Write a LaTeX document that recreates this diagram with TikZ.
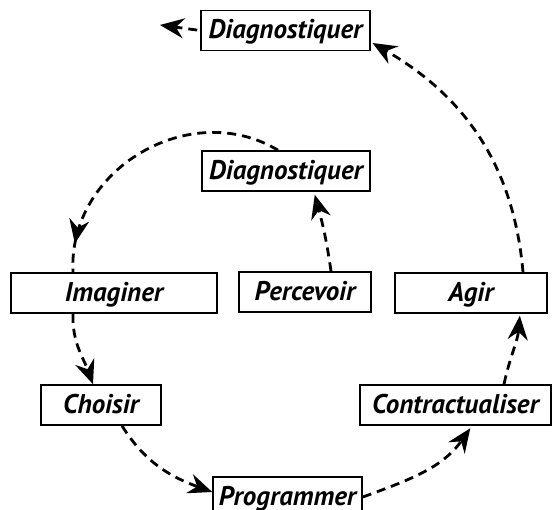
\documentclass[tikz,border=0pt]{standalone}
\usepackage{fontspec}
\setmainfont{PT Sans}
\usetikzlibrary{arrows.meta,decorations.markings}
\begin{document}
\begin{tikzpicture}[x=1pt,y=-1pt,
  box/.style={draw,line width=1.6pt,inner sep=0pt,minimum height=40pt,
    text height=21pt,text depth=4pt,
    font=\fontsize{27}{30}\selectfont\bfseries\itshape},
  tipshape/.style={-{Stealth[length=24pt,width=20pt,inset=8pt]}},
  flow/.style={line width=2.8pt,dash pattern=on 9pt off 6pt,tipshape},
  midtip/.style={line width=2.8pt,dash pattern=on 9pt off 6pt,
    postaction={decorate},
    decoration={markings,mark=at position #1 with
      {\arrow{Stealth[length=24pt,width=20pt,inset=8pt]}}}}
]
\useasboundingbox (0,0) rectangle (553,510);

% boxes of the cycle
\node[box,minimum width=169pt] (diagtop) at (285.5,30.5) {Diagnostiquer};
\node[box,minimum width=168pt] (diagmid) at (286,171) {Diagnostiquer};
\node[box,minimum width=206pt] (imag) at (114,293) {Imaginer};
\node[box,minimum width=132pt] (perc) at (305,292) {Percevoir};
\node[box,minimum width=152pt] (agir) at (471,293) {Agir};
\node[box,minimum width=120pt] (chois) at (101,405) {Choisir};
\node[box,minimum width=191pt] (contr) at (455.5,405) {Contractualiser};
\node[box,minimum width=149pt] (prog) at (287.5,497) {Programmer};

\coordinate (exit) at (160,25);

% inner loop
\draw[flow,shorten >=3pt] ([xshift=26pt]perc.north) to[out=98,in=-75] ([xshift=28pt]diagmid.south);
\draw[midtip=0.9] ([xshift=-8pt]diagmid.north) to[out=149,in=93,looseness=1.1] ([xshift=-41pt]imag.north);

% outer cycle
\draw[flow] ([xshift=-41pt]imag.south) to[out=-92,in=110] ([xshift=-8pt]chois.north);
\draw[flow] ([xshift=21pt]chois.south) to[out=-58,in=160] ([yshift=5pt]prog.west);
\draw[flow,shorten >=3pt] (prog.east) to[out=20,in=-125] ([xshift=16.5pt]contr.south);
\draw[flow,shorten >=2pt] ([xshift=48.5pt]contr.north) to[out=78,in=-95] ([xshift=49pt]agir.south);
\draw[flow,shorten >=2pt] ([xshift=52pt]agir.north) to[out=95,in=-30] ([yshift=-11.5pt]diagtop.east);
\draw[flow,shorten <=3pt] (diagtop.west) -- (exit);
\end{tikzpicture}
\end{document}
